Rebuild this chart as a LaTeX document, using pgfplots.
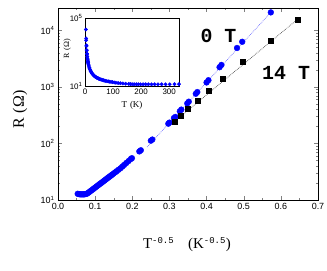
\documentclass[border=0pt]{standalone}
\usepackage{pgfplots}
\pgfplotsset{compat=1.18}
\usepackage{fontspec}
\setmainfont{Liberation Sans}
\newfontfamily\seriffont{Liberation Serif}
\newfontfamily\monofont{Liberation Mono}
\definecolor{dblue}{RGB}{0,0,255}
\definecolor{lblue}{RGB}{110,110,255}

\begin{document}
\begin{tikzpicture}
\useasboundingbox (-58bp,-71bp) rectangle (269bp,200bp);
\begin{axis}[
  at={(0,0)}, anchor=south west,
  scale only axis, width=260bp, height=192bp,
  xmin=0, xmax=0.7, ymode=log, ymin=10, ymax=25000,
  xtick={0,0.1,0.2,0.3,0.4,0.5,0.6,0.7},
  xticklabels={0.0,0.1,0.2,0.3,0.4,0.5,0.6,0.7},
  minor xtick={0.05,0.15,0.25,0.35,0.45,0.55,0.65},
  ytick={10,100,1000,10000},
  yticklabels={10\textsuperscript{1},10\textsuperscript{2},10\textsuperscript{3},10\textsuperscript{4}},
  tick align=inside, major tick length=4bp, minor tick length=2bp,
  ticklabel style={font=\fontsize{9}{10}\selectfont},
  /pgf/number format/assume math mode=true,
  xlabel={\seriffont\fontsize{15}{16}\selectfont T\textsuperscript{\monofont\fontsize{9}{9}\selectfont -0.5}\hspace{14bp}(K\textsuperscript{\monofont\fontsize{9}{9}\selectfont -0.5})},
  xlabel style={at={(axis description cs:0.496,-0.255)}, anchor=base},
  ylabel={\seriffont\fontsize{16}{17}\selectfont R\,\,(Ω)},
  ylabel style={at={(axis description cs:-0.146,0.47)}, anchor=center},
  clip=true,
]
% fit lines
\addplot[lblue, densely dotted, line width=0.7pt] coordinates {(0.24,86.7) (0.573,20893)};
\addplot[black!70, densely dotted, line width=0.7pt] coordinates {(0.31,234) (0.645,15800)};
% 0 T
\addplot[only marks, mark=*, mark size=2.9bp, dblue, mark options={draw=dblue, fill=dblue}] coordinates {
(0.053,12.88) (0.056,12.74) (0.059,12.59) (0.062,12.59) (0.065,12.59) (0.068,12.59)
(0.071,12.59) (0.074,12.74) (0.077,12.88) (0.080,13.18) (0.083,13.65) (0.086,14.13)
(0.089,14.62) (0.092,15.14) (0.095,15.67) (0.098,16.22) (0.101,16.79) (0.104,17.38)
(0.107,17.99) (0.110,18.62) (0.113,19.28) (0.116,19.95) (0.119,20.65) (0.122,21.38)
(0.125,22.13) (0.128,22.91) (0.131,23.71) (0.134,24.55) (0.137,25.41) (0.140,26.30)
(0.143,27.23) (0.146,28.18) (0.150,29.51) (0.154,30.90) (0.158,32.36) (0.163,34.28)
(0.168,36.31) (0.173,38.90) (0.178,41.69) (0.184,45.19) (0.190,48.98) (0.196,53.09)
(0.199,54.95) (0.219,72.44) (0.223,75.86) (0.250,112.2) (0.254,117.5) (0.297,223.9)
(0.300,234.4) (0.312,281.8) (0.316,295.1) (0.328,371.5) (0.332,398.1) (0.348,512.9)
(0.352,549.5) (0.371,758.6) (0.375,812.8) (0.400,1202) (0.405,1318) (0.435,2239)
(0.440,2455) (0.482,4898) (0.496,6310) (0.573,20893)
};
% 14 T
\addplot[only marks, mark=square*, mark size=2.5bp, black] coordinates {
(0.314,245) (0.330,310) (0.350,405) (0.375,565) (0.405,850) (0.443,1380)
(0.496,2770) (0.573,6700) (0.645,15800)
};
\node[font=\monofont\bfseries\fontsize{20}{20}\selectfont] at (axis cs:0.432,7900) {0 T};
\node[font=\monofont\bfseries\fontsize{20}{20}\selectfont] at (axis cs:0.614,1750) {14 T};
\end{axis}
% inset
\begin{axis}[
  at={(27bp,114bp)}, anchor=south west,
  scale only axis, width=94bp, height=68bp,
  axis background/.style={fill=white},
  xmin=0, xmax=335, ymode=log, ymin=10, ymax=100000,
  xtick={0,100,200,300},
  ytick={10,100000},
  yticklabels={10\textsuperscript{1},10\textsuperscript{5}},
  minor ytick={},
  tick align=inside, major tick length=0pt, minor tick length=0pt,
  ticklabel style={font=\fontsize{8}{9}\selectfont},
  /pgf/number format/assume math mode=true,
  xticklabel style={yshift=1bp},
  yticklabel style={xshift=1bp},
  xlabel={\seriffont\fontsize{9}{10}\selectfont T\,\,(K)},
  xlabel style={at={(axis description cs:0.5,-0.31)}, anchor=base},
  ylabel={\seriffont\fontsize{8}{9}\selectfont R\,\,(Ω)},
  ylabel style={at={(axis description cs:-0.19,0.55)}, anchor=center},
]
\addplot[only marks, mark=*, mark size=1.7bp, dblue, mark options={draw=dblue, fill=dblue}] coordinates {
(3.05,20900) (4.06,6310) (4.3,4900) (5.17,2455) (5.28,2239) (6.1,1318) (6.25,1202)
(7.1,813) (7.27,759) (8.07,550) (8.26,513) (9.07,398) (9.3,372) (10.0,295) (10.3,282)
(11.1,234) (11.3,224) (12.5,180) (13.8,150) (15.5,117.5) (16,112) (18,92) (20.1,75.9) (20.9,72.4)
(23,62) (25.2,55) (26,53) (27.7,49) (29.5,45.2) (31.6,41.7) (33.4,38.9) (35.4,36.3)
(37.6,34.3) (40,32.4) (42,30.9) (44.4,29.5) (47,28.2) (49,27.2) (51,26.3) (53,25.4) (55.7,24.5)
(58,23.7) (61,22.9) (64,22.1) (67,21.4) (70,20.7) (74,20.0) (78,19.3) (83,18.6) (87,18.0)
(92.5,17.4) (98,16.8) (104,16.2) (110,15.6) (118,15.1) (126,14.6) (135,14.1) (145,13.6)
(156,13.2) (162,13.0) (168,12.88) (175,12.8) (183,12.74) (190,12.65) (198,12.59) (207,12.59)
(216,12.59) (226,12.59) (237,12.59) (248,12.59) (260,12.59) (273,12.59) (287,12.59)
(302,12.65) (319,12.74) (335,12.8) (350,12.8)
};
\end{axis}
\end{tikzpicture}
\end{document}
